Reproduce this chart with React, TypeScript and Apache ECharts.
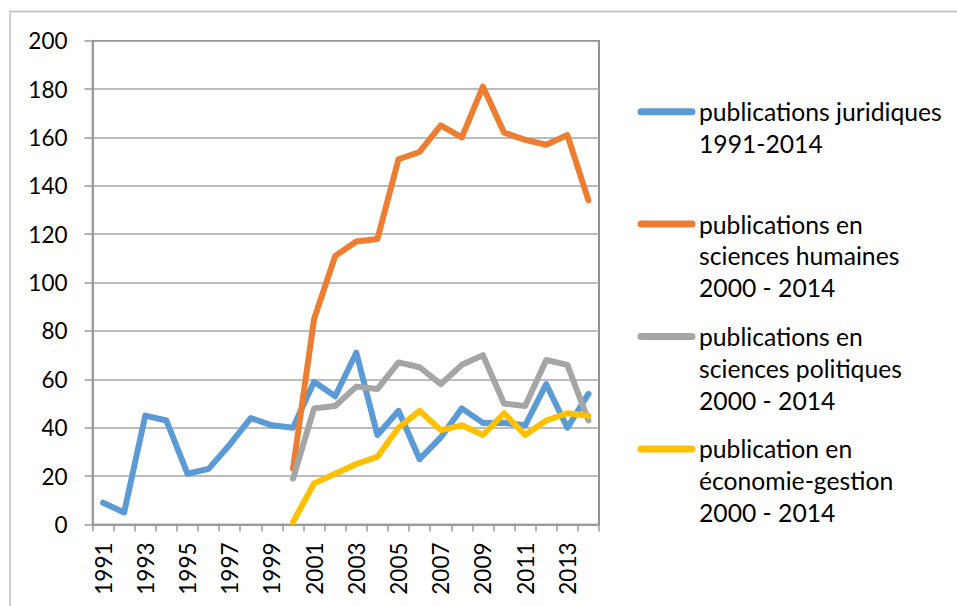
import React, { useEffect, useRef } from "react";
import * as echarts from "echarts";

const years = [
  "1991", "1992", "1993", "1994", "1995", "1996", "1997", "1998", "1999", "2000",
  "2001", "2002", "2003", "2004", "2005", "2006", "2007", "2008", "2009", "2010",
  "2011", "2012", "2013", "2014",
];
const juridiques = [9, 5, 45, 43, 21, 23, 33, 44, 41, 40, 59, 53, 71, 37, 47, 27, 36, 48, 42, 42, 41, 58, 40, 54];
const humaines = [null, null, null, null, null, null, null, null, null, 23, 85, 111, 117, 118, 151, 154, 165, 160, 181, 162, 159, 157, 161, 134];
const politiques = [null, null, null, null, null, null, null, null, null, 19, 48, 49, 57, 56, 67, 65, 58, 66, 70, 50, 49, 68, 66, 43];
const economie = [null, null, null, null, null, null, null, null, null, 1, 17, 21, 25, 28, 40, 47, 39, 41, 37, 46, 37, 43, 46, 45];

const seriesNames = [
  "publications juridiques 1991-2014",
  "publications en sciences humaines 2000 - 2014",
  "publications en sciences politiques 2000 - 2014",
  "publication en économie-gestion 2000 - 2014",
];
const legendLabels = [
  "publications juridiques\n1991-2014",
  "publications en\nsciences humaines\n2000 - 2014",
  "publications en\nsciences politiques\n2000 - 2014",
  "publication en\néconomie-gestion\n2000 - 2014",
];
const colors = ["#5B9BD5", "#ED7D31", "#A5A5A5", "#FFC000"];
const yMin = 0;
const yMax = 200;
const yStep = 20;

const FONT = "Lato, 'Open Sans', sans-serif";

export default function App() {
  const ref = useRef<HTMLDivElement>(null);
  useEffect(() => {
    if (!ref.current) return;
    const chart = echarts.init(ref.current, undefined, { renderer: "svg" });
    const dataSets = [juridiques, humaines, politiques, economie];
    const legendGraphics: any[] = [];
    legendLabels.forEach((lbl, i) => {
      const cy = 111.7 + 112.4 * i;
      legendGraphics.push({
        type: "line",
        shape: { x1: 641, y1: cy, x2: 692, y2: cy },
        style: { stroke: colors[i], lineWidth: 7, lineCap: "round" },
      });
      legendGraphics.push({
        type: "text",
        x: 699,
        y: cy - 15.9,
        style: {
          text: lbl,
          font: `24.7px ${FONT}`,
          fill: "#000",
          lineHeight: 31.8,
          verticalAlign: "top",
          align: "left",
        },
      });
    });
    chart.setOption({
      animation: false,
      backgroundColor: "#fff",
      grid: {
        left: 92.5,
        right: 358,
        top: 40.7,
        bottom: 81.5,
        show: true,
        borderColor: "#6f6f6f",
        borderWidth: 1.5,
      },
      xAxis: {
        type: "category",
        data: years,
        boundaryGap: true,
        axisLine: { lineStyle: { color: "#9a9a9a", width: 2 } },
        axisTick: { show: true, interval: 0, length: 7, lineStyle: { color: "#9a9a9a", width: 1.5 } },
        axisLabel: {
          interval: 1,
          rotate: 90,
          margin: 18,
          color: "#000",
          fontFamily: FONT,
          fontSize: 22.5,
        },
        splitLine: { show: false },
      },
      yAxis: {
        type: "value",
        min: yMin,
        max: yMax,
        interval: yStep,
        axisLine: { show: true, lineStyle: { color: "#9a9a9a", width: 2 } },
        axisTick: { show: true, length: 8, lineStyle: { color: "#9a9a9a", width: 1.5 } },
        axisLabel: {
          margin: 25,
          color: "#000",
          fontFamily: FONT,
          fontSize: 22.5,
        },
        splitLine: { show: true, lineStyle: { color: "#a6a6a6", width: 1.5 } },
      },
      series: dataSets.map((d, i) => ({
        name: seriesNames[i],
        type: "line",
        data: d,
        showSymbol: false,
        symbol: "none",
        connectNulls: false,
        lineStyle: { color: colors[i], width: 6, cap: "round", join: "round" },
        itemStyle: { color: colors[i] },
        z: 2 + i,
      })),
      graphic: [
        {
          type: "rect",
          shape: { x: 10, y: 11.5, width: 1200, height: 1200 },
          style: { fill: "none", stroke: "#b8b8b8", lineWidth: 1.3 },
          silent: true,
        },
        ...legendGraphics,
      ],
    });
    return () => chart.dispose();
  }, []);
  return (
    <div
      ref={ref}
      style={{ position: "absolute", left: 0, top: 0, width: 957, height: 606 }}
    />
  );
}
